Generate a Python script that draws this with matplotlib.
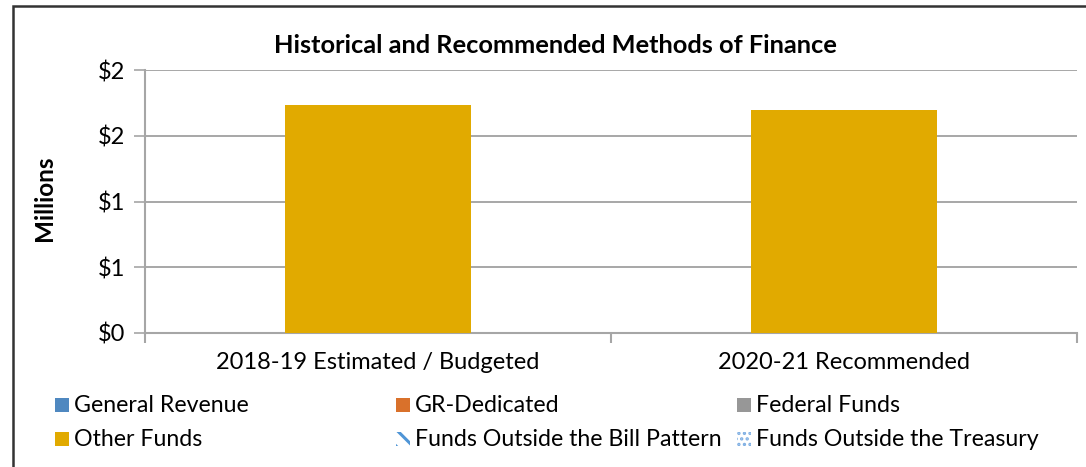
"""
Historical and Recommended Methods of Finance
"""

import matplotlib
matplotlib.use('Agg')
import matplotlib.pyplot as plt
from matplotlib.patches import Rectangle
from matplotlib.ticker import FuncFormatter

plt.rcParams['font.family'] = ['Lato', 'DejaVu Sans']

title = 'Historical and Recommended Methods of Finance'

categories = ['2018-19 Estimated / Budgeted', '2020-21 Recommended']
other_funds = [1.734, 1.696]  # millions

legend_labels = ['General Revenue', 'GR-Dedicated', 'Federal Funds',
                 'Other Funds', 'Funds Outside the Bill Pattern',
                 'Funds Outside the Treasury']
legend_colors = ['#4F88C0', '#D9712B', '#979797', '#E1AA00', '#4F95D6', '#7FAFE3']
legend_hatch = [None, None, None, None, '\\\\', '...']
hatch_lw = [0, 0, 0, 0, 2.2, 1.6]

fig = plt.figure(figsize=(10.86, 4.67), dpi=100)
ax = fig.add_axes([145 / 1086, 1 - 333 / 467, 932 / 1086, 263 / 467])

x = range(len(categories))
ax.bar(x, other_funds, width=0.4, color=legend_colors[3], zorder=3)

ax.set_xlim(-0.5, len(categories) - 0.5)
ax.set_ylim(0, 2)
ax.set_yticks([0, 0.5, 1, 1.5, 2])
ax.yaxis.set_major_formatter(FuncFormatter(lambda v, p: '${:.0f}'.format(round(v + 0.01))))
ax.set_xticks([-0.5, 0.5, 1.5], minor=False)
ax.set_xticklabels(['', '', ''])
ax.set_xticks(list(x), minor=True)
ax.set_xticklabels(categories, minor=True)
ax.tick_params(axis='x', which='minor', length=0, pad=14, labelsize=17)
ax.tick_params(axis='x', which='major', length=7, color='#A6A6A6', width=1.5)
ax.tick_params(axis='y', length=8, color='#A6A6A6', width=1.2, labelsize=17, pad=6)
ax.grid(axis='y', color='#A0A0A0', linewidth=1.3, zorder=0)
for s in ['top', 'right']:
    ax.spines[s].set_visible(False)
ax.spines['left'].set_color('#A6A6A6')
ax.spines['bottom'].set_color('#A6A6A6')
ax.spines['left'].set_linewidth(1.5)
ax.spines['bottom'].set_linewidth(1.5)

fig.text(555 / 1086, 1 - 45 / 467, title, ha='center', va='center',
         fontsize=18.3, fontweight='bold')
fig.text(45 / 1086, 1 - 198 / 467, 'Millions', ha='center', va='center',
         rotation=90, fontsize=17.5, fontweight='bold')

# legend drawn by hand in three columns
col_x = [55, 396, 737]
row_y = [405, 439]
for i, lab in enumerate(legend_labels):
    cx = col_x[i % 3]
    cy = row_y[i // 3]
    if legend_hatch[i] is None:
        r = Rectangle((cx / 1086, 1 - (cy + 7) / 467), 14 / 1086, 14 / 467,
                      transform=fig.transFigure, facecolor=legend_colors[i],
                      edgecolor='none')
    else:
        plt.rcParams['hatch.color'] = legend_colors[i]
        plt.rcParams['hatch.linewidth'] = hatch_lw[i]
        r = Rectangle((cx / 1086, 1 - (cy + 7) / 467), 14 / 1086, 14 / 467,
                      transform=fig.transFigure, facecolor='white',
                      edgecolor=legend_colors[i], hatch=legend_hatch[i], linewidth=0)
    fig.patches.append(r)
    fig.text((cx + 19) / 1086, 1 - cy / 467, lab, ha='left', va='center', fontsize=16.7)

# outer chart border
fig.patches.append(Rectangle((13 / 1086, -0.1), 1.2, 1 - 6 / 467 + 0.1,
                             transform=fig.transFigure, fill=False,
                             edgecolor='#333333', linewidth=1.8))

fig.savefig('out.png', dpi=100, facecolor='white')
